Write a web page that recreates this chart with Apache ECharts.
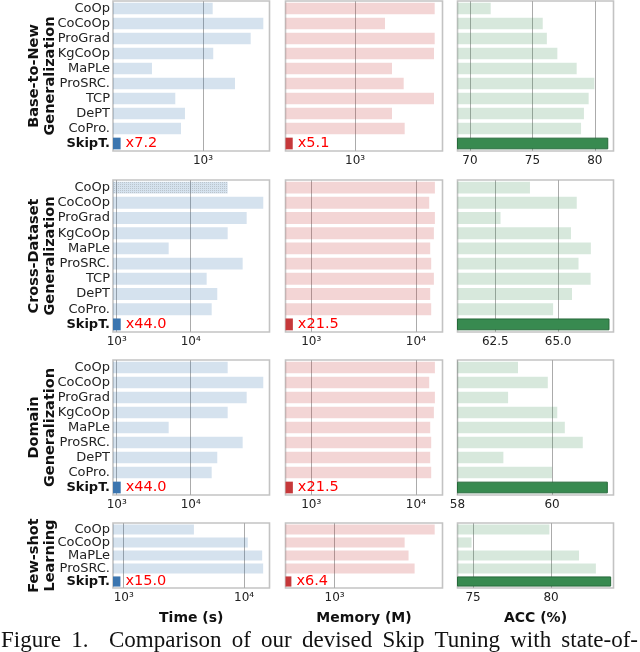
<!DOCTYPE html>
<html><head><meta charset="utf-8">
<script src="https://cdn.jsdelivr.net/npm/echarts@6/dist/echarts.min.js"></script>
<style>
html,body{margin:0;padding:0;background:#fff;}
#wrap{position:relative;width:640px;height:652px;overflow:hidden;}
#chart{position:absolute;left:0;top:0;width:640px;height:652px;}
#cap{position:absolute;left:1px;width:637px;top:626px;font-family:'Liberation Serif','Times New Roman',serif;font-size:23px;line-height:27px;text-align:justify;text-align-last:justify;color:#111;white-space:nowrap;}
</style></head><body>
<div id="wrap"><div id="chart"></div><div id="cap"></div></div>
<script>
// ---------------- data ----------------
const rowTitles = [['Base-to-New', 'Generalization'], ['Cross-Dataset', 'Generalization'], ['Domain', 'Generalization'], ['Few-shot', 'Learning']];
const axisNames = ['Time (s)', 'Memory (M)', 'ACC (%)'];
const captionText = 'Figure 1.\u00a0 Comparison of our devised Skip Tuning with state-of-';

const b2nMethods = ['CoOp', 'CoCoOp', 'ProGrad', 'KgCoOp', 'MaPLe', 'ProSRC.', 'TCP', 'DePT', 'CoPro.', 'SkipT.'];
const b2nTime = [1205, 3181, 2498, 1218, 376, 1848, 588, 708, 656, 206];
const b2nMemory = [2907, 1494, 2907, 2880, 1641, 1919, 2880, 1641, 1945, 434];
const b2nAcc = [71.66, 75.83, 76.16, 77.00, 78.55, 79.97, 79.51, 79.13, 78.90, 81.08];

const xdMethods = ['CoOp', 'CoCoOp', 'ProGrad', 'KgCoOp', 'MaPLe', 'ProSRC.', 'TCP', 'DePT', 'CoPro.', 'SkipT.'];
const xdTime = [31620, 95700, 57100, 31620, 5040, 50400, 16450, 22870, 19230, 1133];
const xdMemory = [15190, 13400, 15190, 14850, 13700, 14000, 14850, 13700, 14000, 668];
const xdAcc = [63.88, 65.74, 62.71, 65.51, 66.30, 65.81, 66.29, 65.55, 64.80, 67.04];

const dgMethods = ['CoOp', 'CoCoOp', 'ProGrad', 'KgCoOp', 'MaPLe', 'ProSRC.', 'DePT', 'CoPro.', 'SkipT.'];
const dgTime = [31620, 95700, 57100, 31620, 5040, 50400, 22870, 19230, 1133];
const dgMemory = [15190, 13400, 15190, 14850, 13700, 14000, 13700, 14000, 668];
const dgAcc = [59.28, 59.91, 59.07, 60.11, 60.27, 60.65, 58.97, 60.00, 61.18];

const fsMethods = ['CoOp', 'CoCoOp', 'MaPLe', 'ProSRC.', 'SkipT.'];
const fsTime = [3831, 10730, 14125, 14390, 939];
const fsMemory = [4395, 2818, 2985, 3266, 528];
const fsAcc = [79.89, 74.90, 81.79, 82.87, 83.85];

const timeSpeedup = [7.2, 44.0, 44.0, 15.0];
const memorySaving = [5.1, 21.5, 21.5, 6.4];

// axis ranges and ticks per row
const timeRange = [[178, 3583], [891, 116200], [891, 116200], [815, 16250]];
const memoryRange = [[394, 3227], [568, 17950], [568, 17950], [484, 4932]];
const accRange = [[69, 81.5], [61, 67.2], [58, 61.3], [74, 84]];
const timeTicks = [[1e3], [1e3, 1e4], [1e3, 1e4], [1e3, 1e4]];
const memoryTicks = [[1e3], [1e3, 1e4], [1e3, 1e4], [1e3]];
const accTicks = [[70, 75, 80], [62.5, 65.0], [58, 60], [75, 80]];
const accTickLabels = [['70', '75', '80'], ['62.5', '65.0'], ['58', '60'], ['75', '80']];
const highlight = 'SkipT.';

// ---------------- layout / style ----------------
const FONT = 'DejaVu Sans';
const colLeft = [113, 285.5, 457.5];
const colWidth = [156.5, 157, 156];
const rowTop = [1, 180, 360, 523];
const rowHeight = [150, 152, 135, 65];
const titleX = 42;

const light = ['rgba(59,117,175,0.21)', 'rgba(198,56,58,0.21)', 'rgba(56,138,80,0.20)'];
const dark = ['rgb(59,117,175)', 'rgb(198,56,58)', 'rgb(56,138,80)'];
const SUP = {'1': '¹', '2': '²', '3': '³', '4': '⁴', '5': '⁵', '6': '⁶'};

const rows = [
  {methods: b2nMethods, vals: [b2nTime, b2nMemory, b2nAcc]},
  {methods: xdMethods, vals: [xdTime, xdMemory, xdAcc]},
  {methods: dgMethods, vals: [dgTime, dgMemory, dgAcc]},
  {methods: fsMethods, vals: [fsTime, fsMemory, fsAcc]}
];

const grid = [], xAxis = [], yAxis = [], series = [];
rows.forEach((row, r) => {
  for (let c = 0; c < 3; c++) {
    const gi = grid.length;
    const isLog = c < 2;
    const range = c === 0 ? timeRange[r] : c === 1 ? memoryRange[r] : accRange[r];
    const ticks = c === 0 ? timeTicks[r] : c === 1 ? memoryTicks[r] : accTicks[r];
    grid.push({left: colLeft[c], top: rowTop[r], width: colWidth[c], height: rowHeight[r],
      show: true, borderColor: '#c3c3c3', borderWidth: 1.6, backgroundColor: 'transparent', containLabel: false});
    yAxis.push({type: 'category', gridIndex: gi, data: row.methods, inverse: true,
      axisLine: {show: false}, axisTick: {show: false}, splitLine: {show: false},
      axisLabel: {show: c === 0, interval: 0, margin: 3, fontSize: 13, color: '#222', fontFamily: FONT,
        formatter: v => v === highlight ? '{b|' + v + '}' : v,
        rich: {b: {fontWeight: 'bold', fontSize: 13, color: '#111', fontFamily: FONT}}}});
    const fmt = isLog
      ? (v => { const t = ticks.find(t => Math.abs(v - t) / t < 1e-6); if (t === undefined) return ''; return '10' + SUP[String(Math.round(Math.log10(t)))]; })
      : (v => { const i = ticks.findIndex(t => Math.abs(v - t) < 1e-6); return i < 0 ? '' : accTickLabels[r][i]; });
    const xa = {type: isLog ? 'log' : 'value', gridIndex: gi, min: range[0], max: range[1],
      axisLine: {show: false}, axisTick: {show: false}, splitLine: {show: false},
      axisLabel: {show: true, margin: 4, fontSize: 12, color: '#222', fontFamily: FONT, formatter: fmt, showMinLabel: true, showMaxLabel: true},
      name: r === rows.length - 1 ? axisNames[c] : '', nameLocation: 'middle', nameGap: 23,
      nameTextStyle: {fontWeight: 'bold', fontSize: 14, fontFamily: FONT, color: '#111'}};
    if (isLog) { xa.logBase = 10; }
    else { const iv = ticks[1] - ticks[0]; xa.minInterval = iv; xa.maxInterval = iv; }
    xAxis.push(xa);

    const vals = row.vals[c];
    const last = row.methods.indexOf(highlight);
    series.push({type: 'bar', xAxisIndex: gi, yAxisIndex: gi, barWidth: '78%', z: 10, clip: true, animation: false,
      data: vals.map((v, i) => {
        const item = {value: v, itemStyle: {color: i === last ? dark[c] : light[c]}};
        if (i === last && c === 2) { item.itemStyle.borderColor = 'rgb(38,105,58)'; item.itemStyle.borderWidth = 1; }
        if (r === 1 && c === 0 && row.methods[i] === 'CoOp') {
          item.itemStyle.decal = {symbol: 'rect', symbolSize: 1, dashArrayX: [1, 1], dashArrayY: [1, 1], color: 'rgba(140,140,140,0.35)', rotation: 0};
        }
        if (i === last && c < 2) {
          const ratio = c === 0 ? timeSpeedup[r] : memorySaving[r];
          item.label = {show: true, position: 'right', distance: 5, formatter: 'x' + ratio.toFixed(1),
            color: '#ff0000', fontSize: 14.5, fontFamily: FONT};
        }
        return item;
      })});
    series.push({type: 'line', xAxisIndex: gi, yAxisIndex: gi, data: [], z: 1, silent: true, animation: false,
      markLine: {silent: true, z: 1, animation: false, symbol: ['none', 'none'], label: {show: false},
        lineStyle: {color: '#ababab', width: 1, type: 'solid'}, emphasis: {disabled: true},
        data: ticks.map(t => ({xAxis: t}))}});
  }
});

const graphic = rowTitles.map((t, r) => ({type: 'text', x: titleX, y: rowTop[r] + rowHeight[r] / 2, rotation: Math.PI / 2,
  style: {text: t.join('\n'), fontFamily: FONT, fontWeight: 'bold', fontSize: 14.5, lineHeight: 16, fill: '#111',
    textAlign: 'center', textVerticalAlign: 'middle', align: 'center', verticalAlign: 'middle'}}));

const chart = echarts.init(document.getElementById('chart'), null, {renderer: 'canvas'});
chart.setOption({animation: false, backgroundColor: '#fff', textStyle: {fontFamily: FONT},
  grid, xAxis, yAxis, series, graphic});
document.getElementById('cap').textContent = captionText;
</script>
</body></html>
